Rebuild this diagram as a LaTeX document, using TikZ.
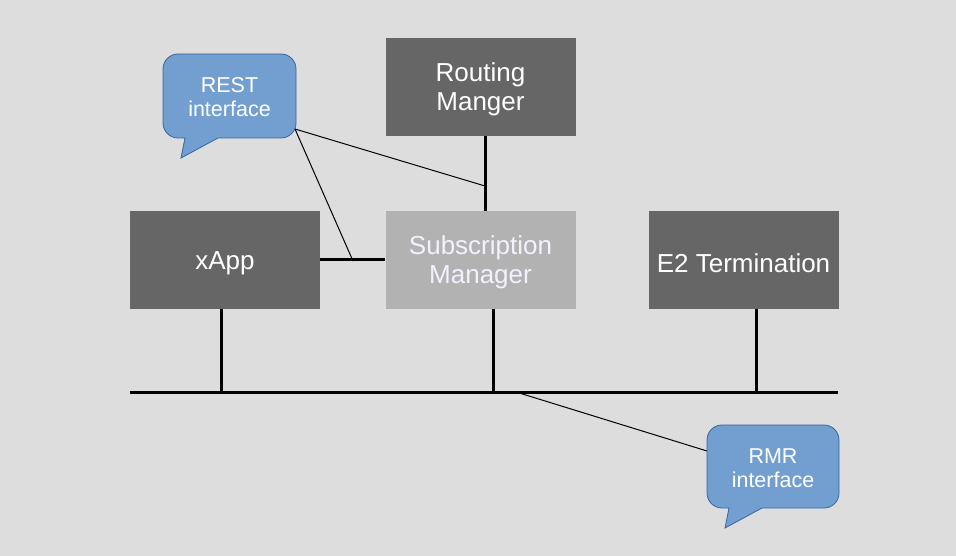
\documentclass[tikz,border=0pt]{standalone}
\usepackage{fontspec}
\setmainfont{Liberation Sans}
\definecolor{bg}{HTML}{DDDDDD}
\definecolor{dark}{HTML}{666666}
\definecolor{light}{HTML}{B2B2B2}
\definecolor{callfill}{HTML}{729FCF}
\definecolor{callline}{HTML}{3465A4}
\begin{document}
\begin{tikzpicture}[x=1pt,y=-1pt,
  box/.style={draw=none,fill=dark,minimum width=190pt,minimum height=98pt,text=white,align=center,font=\fontsize{26}{29}\selectfont,inner sep=0pt},
  lbox/.style={box,fill=light},
  lbl/.style={text=white,align=center,font=\fontsize{26}{29}\selectfont,inner sep=0pt},
  bus/.style={line width=3pt},
  thin/.style={line width=1pt},
  callout/.style={fill=callfill,draw=callline,line width=0.8pt},
  ctext/.style={text=white,align=center,font=\fontsize{21.5}{24}\selectfont}]
\fill[bg] (0,0) rectangle (956,556);
\useasboundingbox (0,0) rectangle (956,556);
\node[box] (rm) at (480.5,87) {};
\node[box] (xapp) at (225,260) {};
\node[lbox] (sm) at (480.5,260) {};
\node[box] (e2) at (743.5,260) {};
\node[lbl] (rmt) at (480.5,89.5) {Routing\\Manger};
\node[lbl] (xappt) at (225,263) {xApp};
\node[lbl,text=white!95!blue] (smt) at (480.5,262.5) {Subscription\\Manager};
\node[lbl] (e2t) at (743.5,263) {E2 Termination};
% bus
\coordinate (busL) at (130,392);
\coordinate (busR) at (838,392);
\draw[bus] (busL) -- (busR);
\coordinate (bx) at (221,392);
\coordinate (bs) at (493,392);
\coordinate (be) at (756,392);
\draw[bus] (bx |- xapp.south) -- (bx);
\draw[bus] (bs |- sm.south) -- (bs);
\draw[bus] (be |- e2.south) -- (be);
\draw[bus] (485,136) coordinate (rmS) -- (485,211) coordinate (smN);
\draw[bus] (xapp.east) -- (sm.west);
% REST callout
\path[callout] (178,54) -- (281,54) arc[start angle=-90,end angle=0,x radius=15pt,y radius=-15pt]
  -- (296,123) arc[start angle=0,end angle=90,x radius=15pt,y radius=-15pt]
  -- (218,138) -- (181,158) -- (185,138) -- (178,138)
  arc[start angle=90,end angle=180,x radius=15pt,y radius=-15pt]
  -- (163,69) arc[start angle=180,end angle=270,x radius=15pt,y radius=-15pt] -- cycle;
\node[ctext] (rest) at (229.5,97) {REST\\interface};
\coordinate (restC) at (295,129);
\coordinate (rp1) at (485,186);
\coordinate (rp2) at (353,261);
\draw[thin] (restC) -- (rp1);
\draw[thin] (restC) -- (rp2);
% RMR callout
\coordinate (rmrC) at (707,451);
\draw[thin] (516,392) coordinate (bp) -- (rmrC);
\path[callout] (722,425) -- (824,425) arc[start angle=-90,end angle=0,x radius=15pt,y radius=-15pt]
  -- (839,493) arc[start angle=0,end angle=90,x radius=15pt,y radius=-15pt]
  -- (762,508) -- (725,528) -- (729,508) -- (722,508)
  arc[start angle=90,end angle=180,x radius=15pt,y radius=-15pt]
  -- (707,440) arc[start angle=180,end angle=270,x radius=15pt,y radius=-15pt] -- cycle;
\node[ctext] (rmr) at (773,468) {RMR\\interface};
\end{tikzpicture}
\end{document}
